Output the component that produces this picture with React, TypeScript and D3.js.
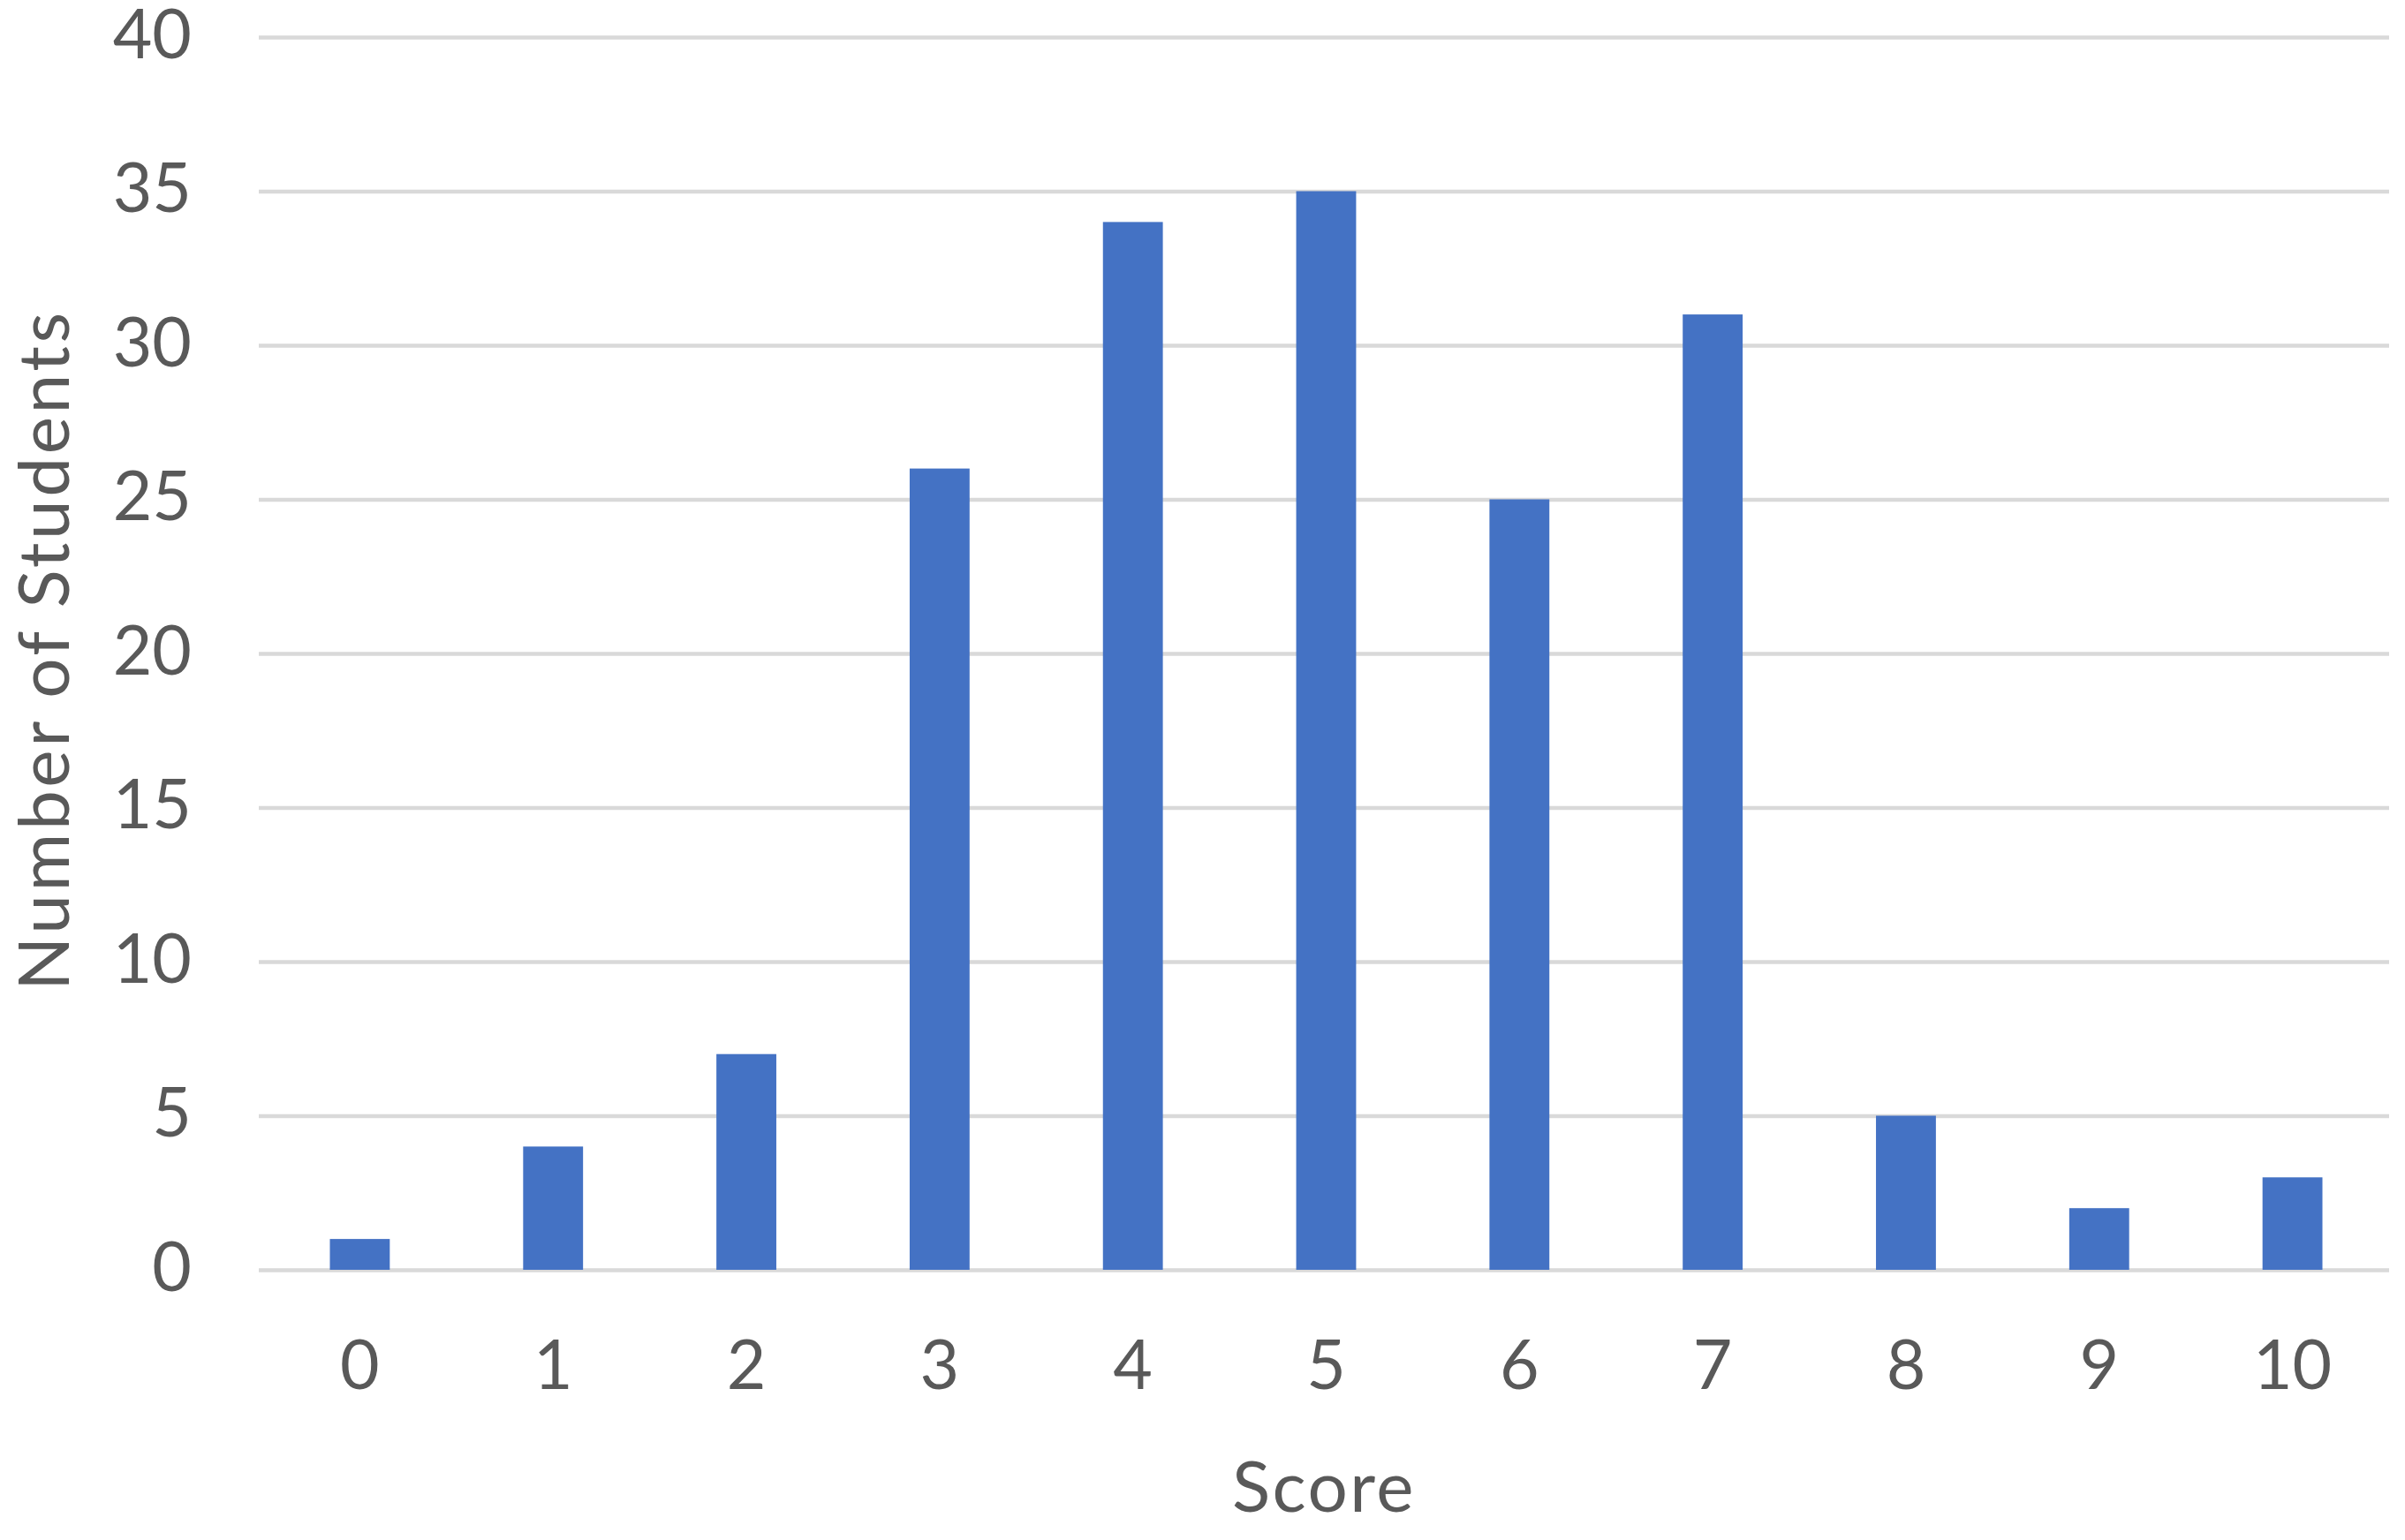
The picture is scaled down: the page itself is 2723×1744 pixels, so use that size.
import * as d3 from "d3";
import React, { useEffect, useRef } from "react";

const scores = ["0", "1", "2", "3", "4", "5", "6", "7", "8", "9", "10"];
const students = [1, 4, 7, 26, 34, 35, 25, 31, 5, 2, 3];
const yTicks = [0, 5, 10, 15, 20, 25, 30, 35, 40];

const xTitle = "Score";
const yTitle = "Number of Students";

const App = () => {
  const svgRef = useRef<SVGSVGElement>(null);

  const renderSVG = () => {
    const dims = {
      width: 2723,
      height: 1744,
      margin: { top: 42, left: 293, right: 18, bottom: 306 },
    };
    const innerWidth = dims.width - dims.margin.left - dims.margin.right;
    const innerHeight = dims.height - dims.margin.top - dims.margin.bottom;
    const font = "Lato, 'Open Sans', sans-serif";
    const textColor = "#595959";

    // bars sit a few px right of where the gridlines start
    const x = d3
      .scaleBand<string>()
      .domain(scores)
      .range([5, innerWidth])
      .paddingInner(0.69)
      .paddingOuter(0.345);

    const y = d3.scaleLinear().domain([0, 40]).range([innerHeight, 0]);

    svgRef.current!.innerHTML = "";
    const svg = d3
      .select(svgRef.current)
      .attr("width", dims.width)
      .attr("height", dims.height)
      .attr("viewBox", [0, 0, dims.width, dims.height].join(" "));

    svg
      .append("rect")
      .attr("width", dims.width)
      .attr("height", dims.height)
      .attr("fill", "#ffffff");

    const base = svg
      .append("g")
      .attr("transform", `translate(${dims.margin.left}, ${dims.margin.top})`);

    // gridlines + y labels
    const yAxis = d3
      .axisLeft(y)
      .tickValues(yTicks)
      .tickSize(-innerWidth)
      .tickPadding(76)
      .tickFormat((d) => `${d}`);

    base
      .append("g")
      .call(yAxis)
      .call((g) => {
        g.select(".domain").remove();
        g.selectAll(".tick line")
          .attr("stroke", "#d9d9d9")
          .attr("stroke-width", 4.5);
        g.selectAll(".tick text")
          .attr("fill", textColor)
          .attr("font-family", font)
          .attr("font-size", 77)
          .attr("dy", "0.3em");
      });

    // bars
    base
      .append("g")
      .selectAll("rect")
      .data(students)
      .join("rect")
      .attr("x", (_, i) => x(scores[i])!)
      .attr("y", (d) => y(d))
      .attr("width", x.bandwidth())
      .attr("height", (d) => y(0) - y(d))
      .attr("fill", "#4472c4");

    // x labels
    const xAxis = d3.axisBottom(x).tickSize(0).tickPadding(80);
    base
      .append("g")
      .attr("transform", `translate(0, ${innerHeight})`)
      .call(xAxis)
      .call((g) => {
        g.select(".domain").remove();
        g.selectAll(".tick text")
          .attr("fill", textColor)
          .attr("font-family", font)
          .attr("font-size", 77);
      });

    // axis titles
    svg
      .append("text")
      .attr("x", dims.margin.left + innerWidth / 2)
      .attr("y", 1712)
      .attr("text-anchor", "middle")
      .attr("fill", textColor)
      .attr("font-family", font)
      .attr("font-size", 80)
      .attr("letter-spacing", 2.5)
      .text(xTitle);

    svg
      .append("text")
      .attr("transform", `translate(78, ${dims.margin.top + innerHeight / 2 - 4}) rotate(-90)`)
      .attr("text-anchor", "middle")
      .attr("fill", textColor)
      .attr("font-family", font)
      .attr("font-size", 80)
      .attr("letter-spacing", 3.6)
      .text(yTitle);
  };

  useEffect(() => {
    renderSVG();
  });

  return (
    <svg
      ref={svgRef}
      style={{ position: "absolute", left: 0, top: 0, display: "block" }}
    />
  );
};

export default App;
